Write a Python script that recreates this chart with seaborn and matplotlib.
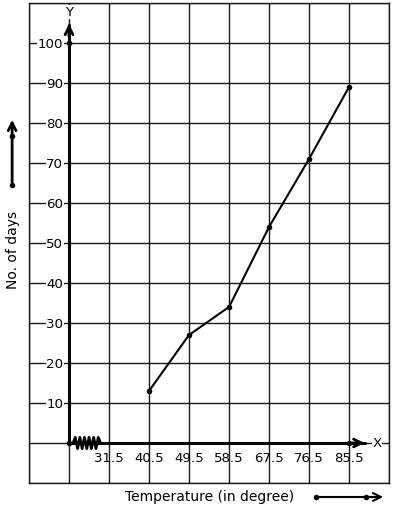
import matplotlib
matplotlib.use("Agg")
import matplotlib.pyplot as plt
import seaborn as sns
import pandas as pd
import numpy as np

# data
temps = [40.5, 49.5, 58.5, 67.5, 76.5, 85.5]
days = [13, 27, 34, 54, 71, 89]
x_tick_labels = [31.5, 40.5, 49.5, 58.5, 67.5, 76.5, 85.5]
y_tick_labels = [10, 20, 30, 40, 50, 60, 70, 80, 90, 100]

sns.set_style("white")
plt.rcParams['font.family'] = ['DejaVu Sans']
plt.rcParams['text.color'] = 'black'

fig = plt.figure(figsize=(3.94, 5.10), dpi=100)
ax = fig.add_axes([29/394, 26/510, 360/394, 480/510])
ax.set_xlim(13.5, 94.5)
ax.set_ylim(-10, 110)

# grid
ax.set_xticks(np.arange(13.5, 94.6, 9))
ax.set_yticks(np.arange(-10, 110.1, 10))
ax.tick_params(left=False, bottom=False, labelleft=False, labelbottom=False)
ax.grid(True, color='#1a1a1a', lw=1.0)
for s in ax.spines.values():
    s.set_color('#1a1a1a')
    s.set_linewidth(1.0)

df = pd.DataFrame({"Temperature": temps, "Days": days})
sns.lineplot(data=df, x="Temperature", y="Days", ax=ax, color='black', lw=1.5,
             marker='o', markersize=4, markeredgewidth=0, zorder=5)

x0 = 22.5
FS = 9.6
# axes lines
ax.plot([x0, x0], [0, 104.5], color='black', lw=2.2, zorder=6)
ax.plot([x0, 89.0], [0, 0], color='black', lw=2.2, zorder=6)
ax.annotate('', xy=(x0, 105.5), xytext=(x0, 101), arrowprops=dict(arrowstyle='->', lw=2, color='black', mutation_scale=14), zorder=6)
ax.annotate('', xy=(89.6, 0), xytext=(85.6, 0), arrowprops=dict(arrowstyle='->', lw=2, color='black', mutation_scale=14), zorder=6)
ax.plot([x0, x0, 85.5], [0, 100, 0], 'o', color='black', markersize=4, markeredgewidth=0, zorder=7)

ax.text(x0, 107.8, 'Y', ha='center', va='center', fontsize=FS,
        bbox=dict(facecolor='white', edgecolor='none', pad=0.3), zorder=8)
ax.text(91.8, 0, 'X', ha='center', va='center', fontsize=FS,
        bbox=dict(facecolor='white', edgecolor='none', pad=0.3), zorder=8)

# zigzag break
zx = np.linspace(23.4, 29.6, 13)
zy = np.array([0 if i in (0, 12) else (1.4 if i % 2 else -1.4) for i in range(13)])
ax.plot(zx, zy, color='black', lw=2, zorder=7)

# tick labels
for v in y_tick_labels:
    ax.text(21.2, v, str(v), ha='right', va='center', fontsize=FS,
            bbox=dict(facecolor='white', edgecolor='none', pad=0.4), zorder=4)
for v in x_tick_labels:
    ax.text(v, -3.6, str(v), ha='center', va='center', fontsize=FS, zorder=4)

# axis titles
ax.text(9.9, 48.5, 'No. of days', rotation=90, ha='center', va='center', fontsize=10, clip_on=False)
ax.text(54.2, -13.3, 'Temperature (in degree)', ha='center', va='center', fontsize=10, clip_on=False)

# decorative arrows
ax.plot([9.7, 9.7], [64.5, 76.8], 'o', color='black', markersize=4, markeredgewidth=0, clip_on=False)
ax.annotate('', xy=(9.7, 81.5), xytext=(9.7, 64.5), annotation_clip=False,
            arrowprops=dict(arrowstyle='->', lw=2, color='black', mutation_scale=14))
ax.plot([78.1, 89.3], [-13.5, -13.5], 'o', color='black', markersize=4, markeredgewidth=0, clip_on=False)
ax.annotate('', xy=(93.8, -13.5), xytext=(78.1, -13.5), annotation_clip=False,
            arrowprops=dict(arrowstyle='->', lw=1.5, color='black', mutation_scale=14))

ax.set_xlabel('')
ax.set_ylabel('')
fig.savefig('out.png', dpi=100)
